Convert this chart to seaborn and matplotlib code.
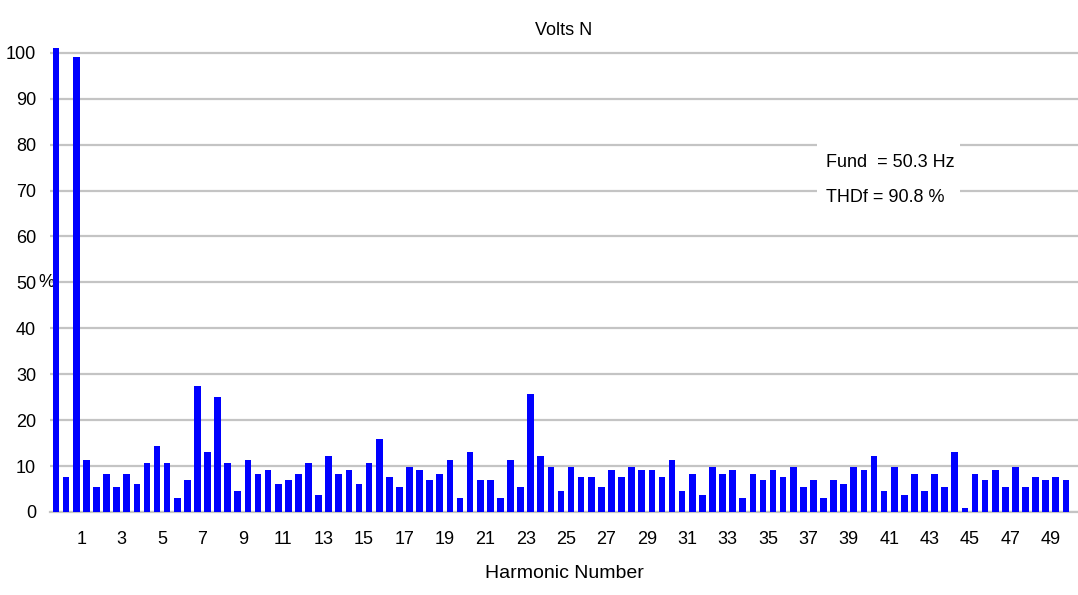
import matplotlib
matplotlib.use("Agg")
import matplotlib.pyplot as plt
import seaborn as sns
import numpy as np
import pandas as pd
from matplotlib.patches import Rectangle

# ---- data (percent of fundamental, DC + harmonic / interharmonic bins) ----
bar_values = [
    101.0, 7.6, 99.0, 11.4, 5.4, 8.3, 5.4, 8.3, 6.2, 10.7,
    14.3, 10.7, 3.1, 6.9, 27.4, 13.0, 25.1, 10.7, 4.6, 11.4,
    8.3, 9.2, 6.2, 6.9, 8.3, 10.7, 3.8, 12.2, 8.3, 9.2,
    6.2, 10.7, 15.9, 7.6, 5.4, 9.9, 9.2, 6.9, 8.3, 11.4,
    3.1, 13.0, 6.9, 6.9, 3.1, 11.4, 5.4, 25.8, 12.2, 9.9,
    4.6, 9.9, 7.6, 7.6, 5.4, 9.2, 7.6, 9.9, 9.2, 9.2,
    7.6, 11.4, 4.6, 8.3, 3.8, 9.9, 8.3, 9.2, 3.1, 8.3,
    6.9, 9.2, 7.6, 9.9, 5.4, 6.9, 3.1, 6.9, 6.2, 9.9,
    9.2, 12.2, 4.6, 9.9, 3.8, 8.3, 4.6, 8.3, 5.4, 13.0,
    0.9, 8.3, 6.9, 9.2, 5.4, 9.9, 5.4, 7.6, 6.9, 7.6,
    6.9,
]
harmonic_labels = list(range(1, 50, 2))
y_ticks = [0, 10, 20, 30, 40, 50, 60, 70, 80, 90, 100]
title = "Volts N"
x_label = "Harmonic Number"
info_lines = ["Fund  = 50.3 Hz", "THDf = 90.8 %"]

df = pd.DataFrame({"bin": np.arange(len(bar_values)), "pct": bar_values})

sns.set_theme(style="white")
plt.rcParams["font.family"] = ["Liberation Sans", "DejaVu Sans"]

FS = 13
W, H = 1078, 595
fig = plt.figure(figsize=(W / 100, H / 100), dpi=100)
ax_left, ax_right = 50, 1078
y0_px, top_px = 512, 39
ax = fig.add_axes([ax_left / W, (H - y0_px) / H, (ax_right - ax_left) / W, (y0_px - top_px) / H])

sns.barplot(data=df, x="bin", y="pct", color="#0000ff", saturation=1,
            width=0.66, ax=ax, zorder=3, linewidth=0)

ax.set_xlim(-0.6, 101.2)
ax.set_ylim(0, 103)

ax.set_yticks(y_ticks)
ax.set_yticklabels([str(v) for v in y_ticks], fontsize=FS, color="black")
ax.set_xticks([2.5 + 2 * (h - 1) for h in harmonic_labels])
ax.set_xticklabels([str(h) for h in harmonic_labels], fontsize=FS, color="black")
ax.tick_params(axis="y", length=0, pad=10)
ax.tick_params(axis="x", length=0, pad=14)

ax.grid(axis="y", color="#c4c4c4", linewidth=1.6, zorder=0)
ax.grid(axis="x", visible=False)
for s in ["top", "right", "left"]:
    ax.spines[s].set_visible(False)
ax.spines["bottom"].set_color("#c4c4c4")
ax.spines["bottom"].set_linewidth(1.6)

ax.set_title(title, fontsize=FS, pad=3, color="black")
ax.set_xlabel(x_label, fontsize=FS + 1, color="black", labelpad=12)
ax.set_ylabel("%", rotation=0, fontsize=FS, color="black", ha="center", va="center")
ax.yaxis.set_label_coords(-0.004, 0.485)

# info box: white patch interrupting the grid, then two text lines
ax.add_patch(Rectangle((75.4, 65.5), 14.1, 16.5, facecolor="white",
                       edgecolor="none", zorder=4))
ax.text(76.2, 76.0, info_lines[0], fontsize=FS, color="black",
        ha="left", va="center", zorder=5)
ax.text(76.2, 68.4, info_lines[1], fontsize=FS, color="black",
        ha="left", va="center", zorder=5)

fig.savefig("out.png", dpi=100, facecolor="white")
